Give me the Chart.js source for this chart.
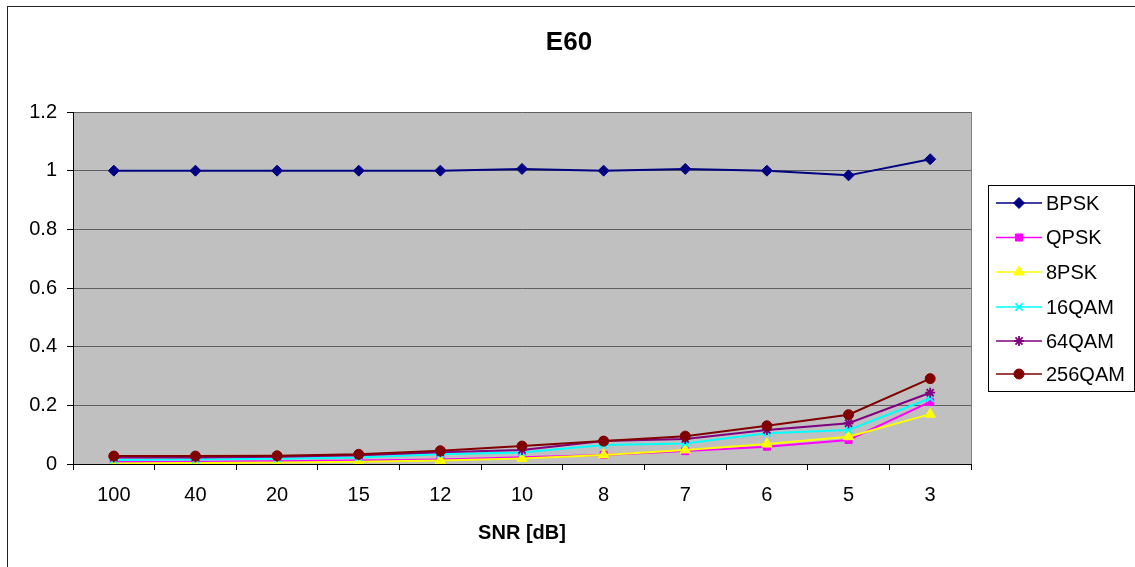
<!DOCTYPE html>
<html>
<head>
<meta charset="utf-8">
<script src="https://cdn.jsdelivr.net/npm/chart.js@4.4.1/dist/chart.umd.min.js"></script>
<style>
html,body{margin:0;padding:0;background:#fff;}
#wrap{width:1135px;height:567px;position:relative;}
</style>
</head>
<body>
<div id="wrap"><canvas id="c" width="1135" height="567"></canvas></div>
<script>
const chartTitle = 'E60';
const xAxisTitle = 'SNR [dB]';
const categories = ['100', '40', '20', '15', '12', '10', '8', '7', '6', '5', '3'];
const seriesNames = ['BPSK', 'QPSK', '8PSK', '16QAM', '64QAM', '256QAM'];
const bpsk   = [1.0, 1.0, 1.0, 1.0, 1.0, 1.006, 1.0, 1.006, 1.0, 0.984, 1.039];
const qpsk   = [0.008, 0.008, 0.009, 0.012, 0.015, 0.023, 0.031, 0.044, 0.059, 0.082, 0.212];
const psk8   = [0.002, 0.003, 0.005, 0.008, 0.012, 0.019, 0.031, 0.048, 0.068, 0.093, 0.170];
const qam16  = [0.014, 0.015, 0.018, 0.022, 0.033, 0.039, 0.065, 0.070, 0.105, 0.116, 0.224];
const qam64  = [0.022, 0.022, 0.025, 0.030, 0.040, 0.048, 0.078, 0.085, 0.116, 0.139, 0.243];
const qam256 = [0.027, 0.027, 0.028, 0.033, 0.045, 0.061, 0.078, 0.095, 0.130, 0.168, 0.291];
const yTicks = [0, 0.2, 0.4, 0.6, 0.8, 1, 1.2];

const seriesValues = [bpsk, qpsk, psk8, qam16, qam64, qam256];
const colors = ['#000080', '#FF00FF', '#FFFF00', '#00FFFF', '#800080', '#800000'];
const styles = ['rectRot', 'rect', 'triangle', 'crossRot', 'star', 'circle'];
const radii = [5.5, 5, 6, 5, 5, 5];

const FONT = '"Liberation Sans", Arial, sans-serif';

const datasets = seriesNames.map((n, i) => ({
  label: n,
  data: seriesValues[i],
  borderColor: colors[i],
  backgroundColor: colors[i],
  pointBackgroundColor: colors[i],
  pointBorderColor: colors[i],
  pointStyle: styles[i],
  pointRadius: radii[i],
  pointBorderWidth: (styles[i] === 'crossRot' || styles[i] === 'star') ? 1.8 : 1,
  borderWidth: 2,
  tension: 0,
  order: seriesNames.length - i
}));

const framePlugin = {
  id: 'frame',
  beforeDraw(chart) {
    const {ctx, chartArea: a} = chart;
    ctx.save();
    ctx.fillStyle = '#fff';
    ctx.fillRect(0, 0, chart.width, chart.height);
    ctx.fillStyle = '#C0C0C0';
    ctx.fillRect(a.left, a.top, a.right - a.left, a.bottom - a.top);
    ctx.strokeStyle = '#808080';
    ctx.lineWidth = 1;
    ctx.beginPath();
    ctx.moveTo(a.right + 0.5, a.top);
    ctx.lineTo(a.right + 0.5, a.bottom);
    ctx.stroke();
    ctx.strokeStyle = '#222';
    ctx.strokeRect(7.5, 6.5, 1300, 700);
    ctx.fillStyle = '#000';
    ctx.font = 'bold 26px ' + FONT;
    ctx.textAlign = 'center';
    ctx.textBaseline = 'middle';
    ctx.fillText(chartTitle, 569, 43);
    ctx.restore();
  },
  afterDraw(chart) {
    const ctx = chart.ctx;
    const bx = 988, by = 185, bw = 146, bh = 206;
    ctx.save();
    ctx.fillStyle = '#fff';
    ctx.fillRect(bx, by, bw, bh);
    ctx.strokeStyle = '#000';
    ctx.lineWidth = 1;
    ctx.strokeRect(bx + 0.5, by + 0.5, bw, bh);
    const ys = [203, 237.5, 272, 307, 341, 374];
    chart.data.datasets.forEach((ds, i) => {
      const y = ys[i];
      ctx.strokeStyle = ds.borderColor;
      ctx.lineWidth = 1.5;
      ctx.beginPath();
      ctx.moveTo(996, y);
      ctx.lineTo(1042, y);
      ctx.stroke();
      ctx.fillStyle = ds.pointBackgroundColor;
      ctx.strokeStyle = ds.pointBorderColor;
      ctx.lineWidth = ds.pointBorderWidth;
      Chart.helpers.drawPoint(ctx, {pointStyle: ds.pointStyle, radius: ds.pointRadius, rotation: 0, borderWidth: ds.pointBorderWidth}, 1019, y);
      ctx.fillStyle = '#000';
      ctx.font = '20px ' + FONT;
      ctx.textBaseline = 'middle';
      ctx.textAlign = 'left';
      ctx.fillText(ds.label, 1046, y + 1);
    });
    ctx.restore();
  }
};

new Chart(document.getElementById('c'), {
  type: 'line',
  data: {labels: categories, datasets},
  plugins: [framePlugin],
  options: {
    responsive: false,
    animation: false,
    devicePixelRatio: 1,
    layout: {padding: {left: 0, right: 164, top: 112, bottom: 0}},
    plugins: {
      legend: {display: false},
      tooltip: {enabled: false},
      title: {display: false}
    },
    scales: {
      x: {
        offset: true,
        grid: {offset: true, drawOnChartArea: false, drawTicks: true, tickLength: 6, tickColor: '#000', lineWidth: 1},
        border: {display: true, color: '#000', width: 1},
        ticks: {color: '#000', font: {family: FONT, size: 20}, padding: 13, maxRotation: 0, autoSkip: false},
        title: {display: true, text: xAxisTitle, color: '#000', font: {family: FONT, size: 20, weight: 'bold'}, padding: {top: 0, bottom: 22}},
        afterFit(s) { s.height = 103; }
      },
      y: {
        min: 0,
        max: 1.2,
        afterBuildTicks(s) { s.ticks = yTicks.map(v => ({value: v})); },
        grid: {color: '#606060', tickColor: '#000', tickLength: 6, lineWidth: 1},
        border: {display: true, color: '#000', width: 1},
        ticks: {color: '#000', font: {family: FONT, size: 20}, padding: 10, callback: v => String(v)},
        afterFit(s) { s.width = 73; }
      }
    }
  }
});
</script>
</body>
</html>
